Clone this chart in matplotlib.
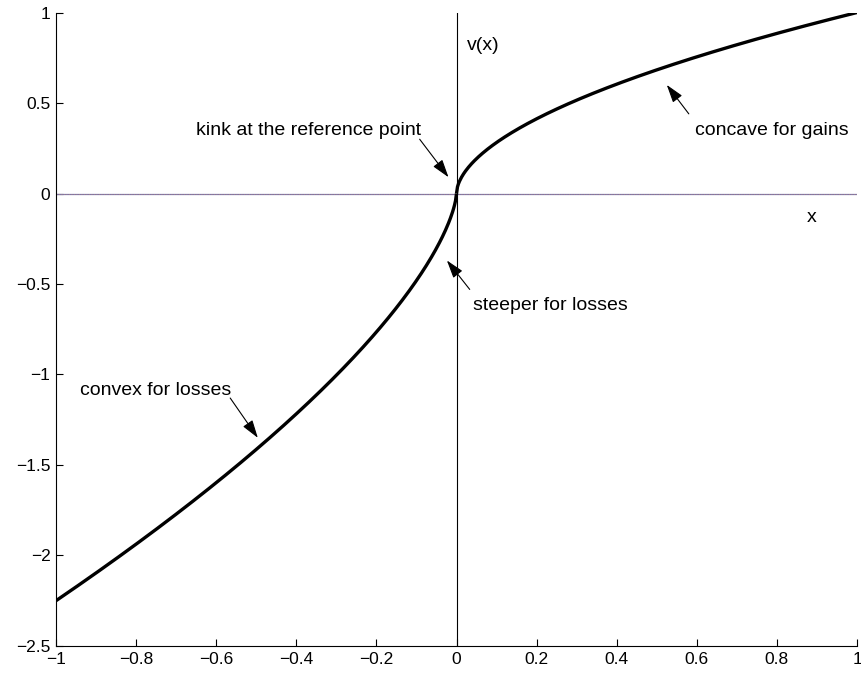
import numpy as np
import matplotlib
matplotlib.use('Agg')
import matplotlib.pyplot as plt

# value function parameters
alpha = 0.55     # gains exponent
beta = 0.67      # losses exponent
lam = 2.25       # loss aversion

x_gain = np.linspace(0, 1, 400)
x_loss = np.linspace(-1, 0, 400)

plt.rcParams['font.family'] = ['Liberation Sans', 'DejaVu Sans']
fs = 14

fig = plt.figure(figsize=(8.61, 6.76), dpi=100)
ax = fig.add_axes([0.065, 0.0444, 0.9304, 0.9371])

ax.axhline(0, color='#7b76a8', linewidth=0.9)
ax.axhline(0, color='#b08080', linewidth=0.6, linestyle=(0, (1, 2)))
ax.axvline(0, color='black', linewidth=0.8)

ax.plot(x_gain, x_gain ** alpha, color='black', linewidth=2.4, solid_capstyle='butt')
ax.plot(x_loss, -lam * (-x_loss) ** beta, color='black', linewidth=2.4, solid_capstyle='butt')

ax.set_xlim(-1, 1)
ax.set_ylim(-2.5, 1)
ax.set_xticks(np.arange(-1, 1.01, 0.2))
ax.set_xticklabels(['−1', '−0.8', '−0.6', '−0.4', '−0.2', '0', '0.2', '0.4', '0.6', '0.8', '1'])
ax.set_yticks(np.arange(-2.5, 1.01, 0.5))
ax.set_yticklabels(['−2.5', '−2', '−1.5', '−1', '−0.5', '0', '0.5', '1'])
ax.tick_params(direction='in', length=5, width=0.8, labelsize=12.5, pad=4)
ax.spines['top'].set_visible(False)
ax.spines['right'].set_visible(False)

ax.text(0.025, 0.82, 'v(x)', fontsize=fs, ha='left', va='center')
ax.text(0.875, -0.13, 'x', fontsize=fs, ha='left', va='center')

arrow = dict(arrowstyle='-|>,head_length=1.1,head_width=0.35', color='black', lw=0.8,
             shrinkA=0, shrinkB=0)
ax.text(-0.65, 0.35, 'kink at the reference point', fontsize=fs, ha='left', va='center')
ax.annotate('', xy=(-0.02, 0.09), xytext=(-0.092, 0.3), arrowprops=arrow)
ax.text(0.042, -0.62, 'steeper for losses', fontsize=fs, ha='left', va='center')
ax.annotate('', xy=(-0.024, -0.37), xytext=(0.033, -0.53), arrowprops=arrow)
ax.text(-0.94, -1.09, 'convex for losses', fontsize=fs, ha='left', va='center')
ax.annotate('', xy=(-0.496, -1.35), xytext=(-0.565, -1.13), arrowprops=arrow)
ax.text(0.595, 0.35, 'concave for gains', fontsize=fs, ha='left', va='center')
ax.annotate('', xy=(0.525, 0.6), xytext=(0.58, 0.44), arrowprops=arrow)

fig.savefig('out.png', dpi=100)
